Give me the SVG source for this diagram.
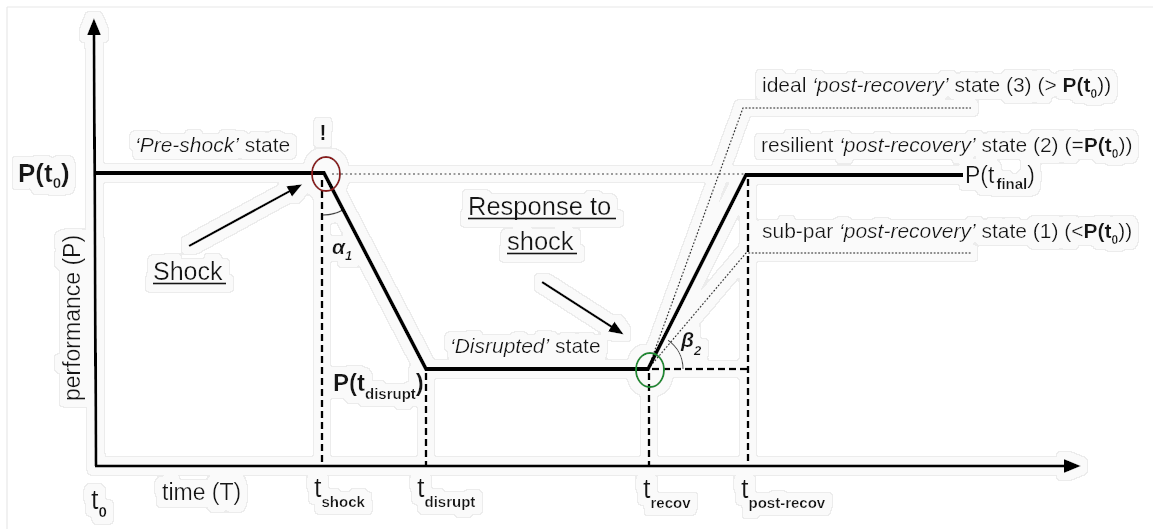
<svg xmlns="http://www.w3.org/2000/svg" width="1153" height="529" viewBox="0 0 1153 529">
  <defs>
    <style>
      .t { font-family: "Liberation Sans", Arial, sans-serif; fill: #141414; }
      .lbl { font-size: 21px; }
      .b { font-weight: bold; }
      .i { font-style: italic; }
      .axis { stroke: #000; stroke-width: 3; fill: none; }
      .curve { stroke: #000; stroke-width: 3.8; fill: none; stroke-linejoin: miter; }
      .dash { stroke: #000; stroke-width: 2.6; fill: none; stroke-dasharray: 7 4; }
      .ref { stroke: #9a9a9a; stroke-width: 2; fill: none; stroke-dasharray: 2 2.5; }
      .alt { stroke: #333; stroke-width: 1.4; fill: none; stroke-dasharray: 2 1.5; }
      .arc { stroke: #444; stroke-width: 1.3; fill: none; }
      .ptr { stroke: #000; stroke-width: 2.5; fill: none; }
      .ul { stroke: #141414; stroke-width: 1.8; }
    </style>
    <marker id="axisHead" markerUnits="userSpaceOnUse" markerWidth="18" markerHeight="16" refX="1" refY="7" orient="auto">
      <path d="M0,0 L17,7 L0,14 z" fill="#000"/>
    </marker>
    <marker id="ptrHead" markerUnits="userSpaceOnUse" markerWidth="16" markerHeight="14" refX="1" refY="6" orient="auto">
      <path d="M0,0 L15,6 L0,12 z" fill="#000"/>
    </marker>
    <!-- pale outline halo around every drawn element -->
    <filter id="halo" filterUnits="userSpaceOnUse" x="0" y="0" width="1153" height="529">
      <feMorphology in="SourceAlpha" operator="dilate" radius="7" result="d1"/>
      <feGaussianBlur in="d1" stdDeviation="1.5" result="b1"/>
      <feComponentTransfer in="b1" result="m1"><feFuncA type="discrete" tableValues="0 1 1 1"/></feComponentTransfer>
      <feFlood flood-color="#ececec"/>
      <feComposite operator="in" in2="m1" result="edge"/>
      <feMorphology in="SourceAlpha" operator="dilate" radius="6" result="d2"/>
      <feGaussianBlur in="d2" stdDeviation="1.5" result="b2"/>
      <feComponentTransfer in="b2" result="m2"><feFuncA type="discrete" tableValues="0 1 1 1"/></feComponentTransfer>
      <feFlood flood-color="#fafafa"/>
      <feComposite operator="in" in2="m2" result="fill"/>
      <feMerge><feMergeNode in="edge"/><feMergeNode in="fill"/><feMergeNode in="SourceGraphic"/></feMerge>
    </filter>
  </defs>

  <rect width="1153" height="529" fill="#fff"/>
  <!-- frame -->
  <g id="frame" stroke="#e8e8e8" stroke-width="1.2">
    <line x1="7" y1="7" x2="1153" y2="7"/>
    <line x1="7" y1="7" x2="7" y2="529"/>
  </g>

  <g id="chart" filter="url(#halo)">
    <!-- axes -->
    <g id="axes">
      <line class="axis" x1="96" y1="466" x2="94" y2="34" marker-end="url(#axisHead)"/>
      <line class="axis" x1="95" y1="466" x2="1065" y2="466" marker-end="url(#axisHead)"/>
      <text class="t" font-size="23" transform="translate(80,318) rotate(-90)" text-anchor="middle">performance (P)</text>
      <text class="t" font-size="23" x="162" y="500">time (T)</text>
    </g>

    <!-- reference lines and alternative recovery paths -->
    <g id="connectors">
      <line class="ref" x1="332" y1="174" x2="745" y2="174"/>
      <path class="alt" d="M648,369 L743,108 L971,108"/>
      <path class="alt" d="M648,369 L746,253 L971,253"/>
      <line class="dash" x1="322" y1="180" x2="322" y2="466"/>
      <line class="dash" x1="426" y1="373" x2="426" y2="466"/>
      <line class="dash" x1="649" y1="373" x2="649" y2="466"/>
      <line class="dash" x1="748" y1="179" x2="748" y2="466"/>
      <line class="dash" x1="652" y1="369" x2="748" y2="369"/>
      <path class="arc" d="M323,215 A42,42 0 0 0 342.7,210.1"/>
      <path class="arc" d="M683,369 A35,35 0 0 0 668.1,340.3"/>
      <line class="ptr" x1="189" y1="246" x2="290" y2="191" marker-end="url(#ptrHead)"/>
      <line class="ptr" x1="542" y1="282" x2="612" y2="327" marker-end="url(#ptrHead)"/>
    </g>

    <!-- performance profile -->
    <g id="profile">
      <path class="curve" d="M95,173 L324,173 L426,369 L648,369 L746,175 L963,175"/>
      <ellipse id="shock-mark" cx="326" cy="174" rx="14" ry="17" fill="none" stroke="#8b1c1c" stroke-width="2"/>
      <ellipse id="recov-mark" cx="650" cy="370" rx="14" ry="17" fill="none" stroke="#1f8a30" stroke-width="2"/>
    </g>

    <!-- level labels -->
    <g id="level-labels">
      <text class="t b" font-size="26" x="18" y="182">P(t<tspan font-size="15" dy="6">0</tspan><tspan dy="-6">)</tspan></text>
      <text class="t b" font-size="24" x="333" y="391">P(t<tspan font-size="15" dy="8">disrupt</tspan><tspan dy="-8">)</tspan></text>
      <text class="t" font-size="23" x="965" y="183">P(t<tspan class="b" font-size="15" dy="6" dx="2">final</tspan><tspan dy="-6">)</tspan></text>
    </g>

    <!-- state labels -->
    <g id="state-labels">
      <text class="t lbl" x="135" y="152"><tspan class="i">‘Pre-shock’</tspan> state</text>
      <text class="t lbl" x="450" y="353"><tspan class="i">‘Disrupted’</tspan> state</text>
      <text class="t b" font-size="22" x="323" y="140" text-anchor="middle">!</text>
      <text class="t i b" font-size="21" x="332" y="254">α<tspan font-size="13" dy="6">1</tspan></text>
      <text class="t i b" font-size="21" x="681" y="347">β<tspan font-size="13" dy="8">2</tspan></text>
    </g>

    <!-- event labels -->
    <g id="event-labels">
      <text class="t" font-size="25" x="153" y="280">Shock</text>
      <line class="ul" x1="153" y1="283.5" x2="226" y2="283.5"/>
      <text class="t" font-size="25.5" x="468" y="215">Response to</text>
      <line class="ul" x1="468" y1="218.5" x2="616" y2="218.5"/>
      <text class="t" font-size="25.5" x="507" y="250">shock</text>
      <line class="ul" x1="507" y1="253.5" x2="577" y2="253.5"/>
    </g>

    <!-- post-recovery outcomes -->
    <g id="outcome-labels">
      <text class="t lbl" x="762" y="92">ideal <tspan class="i">‘post-recovery’</tspan> state (3) (&gt; <tspan class="b">P(t<tspan font-size="12" dy="6">0</tspan></tspan><tspan dy="-6">))</tspan></text>
      <text class="t lbl" x="761" y="152">resilient <tspan class="i">‘post-recovery’</tspan> state (2) (=<tspan class="b">P(t<tspan font-size="12" dy="6">0</tspan></tspan><tspan dy="-6">))</tspan></text>
      <text class="t lbl" x="762" y="238">sub-par <tspan class="i">‘post-recovery’</tspan> state (1) (&lt;<tspan class="b">P(t<tspan font-size="12" dy="6">0</tspan></tspan><tspan dy="-6">))</tspan></text>
    </g>

    <!-- time ticks -->
    <g id="time-labels">
      <text class="t" font-size="27" x="91" y="509">t<tspan class="b" font-size="15" dy="8">0</tspan></text>
      <text class="t" font-size="27" x="314" y="497">t<tspan class="b" font-size="15" dy="10">shock</tspan></text>
      <text class="t" font-size="27" x="417" y="497">t<tspan class="b" font-size="15" dy="10">disrupt</tspan></text>
      <text class="t" font-size="27" x="643" y="498">t<tspan class="b" font-size="15" dy="10">recov</tspan></text>
      <text class="t" font-size="27" x="741" y="498">t<tspan class="b" font-size="15" dy="10">post-recov</tspan></text>
    </g>
  </g>
</svg>
